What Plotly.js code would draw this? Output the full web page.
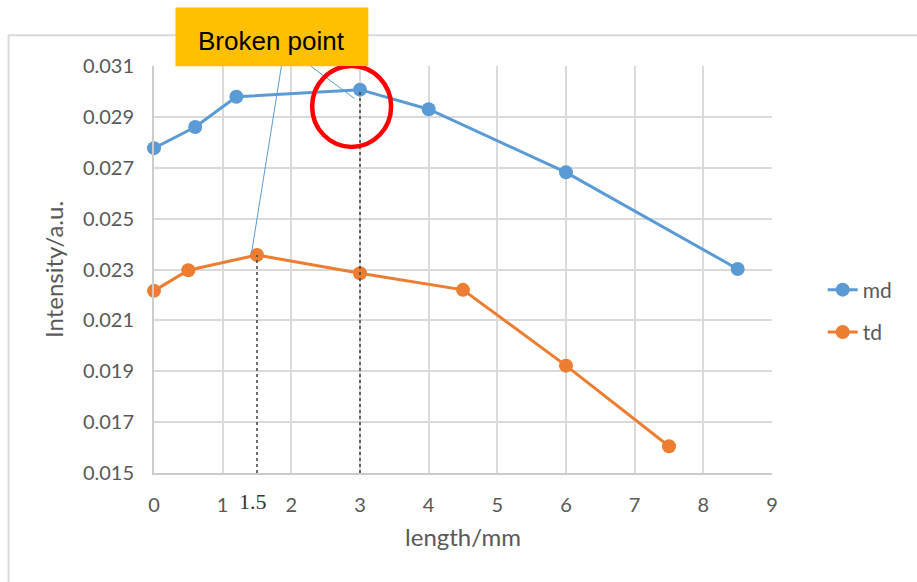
<!DOCTYPE html>
<html>
<head>
<meta charset="utf-8">
<script src="https://cdn.plot.ly/plotly-3.0.1.min.js"></script>
<style>html,body{margin:0;padding:0;background:#fff;}#chart{width:917px;height:582px;}</style>
</head>
<body>
<div id="chart"></div>
<script>
// Data
var mdLength = [0, 0.6, 1.2, 3, 4, 6, 8.5];
var mdIntensity = [0.02777, 0.0286, 0.02979, 0.03007, 0.0293, 0.02682, 0.02302];
var tdLength = [0, 0.5, 1.5, 3, 4.5, 6, 7.5];
var tdIntensity = [0.02216, 0.02297, 0.02357, 0.02285, 0.0222, 0.01922, 0.01605];
var xTicks = [0, 1, 2, 3, 4, 5, 6, 7, 8, 9];
var yTicks = [0.015, 0.017, 0.019, 0.021, 0.023, 0.025, 0.027, 0.029, 0.031];
var seriesNames = ['md', 'td'];
var calloutText = 'Broken point';
var extraTickLabel = '1.5';

var mdColor = '#5B9BD5', tdColor = '#ED7D31';
var textGray = '#595959';
var fontFam = 'Lato, "Open Sans", sans-serif';

var traces = [
  {x: mdLength, y: mdIntensity, name: seriesNames[0], type: 'scatter', mode: 'lines+markers',
   line: {color: mdColor, width: 3}, marker: {color: mdColor, size: 14}, cliponaxis: false, legendgroup: 'a'},
  {x: tdLength, y: tdIntensity, name: seriesNames[1], type: 'scatter', mode: 'lines+markers',
   line: {color: tdColor, width: 3}, marker: {color: tdColor, size: 14}, cliponaxis: false, legendgroup: 'b'}
];

// break points taken from the data
var tdBreakIdx = 2, mdBreakIdx = 3;

var layout = {
  width: 917, height: 582,
  margin: {l: 153.5, r: 145, t: 66, b: 108.5},
  paper_bgcolor: '#fff', plot_bgcolor: '#fff',
  font: {family: fontFam, color: textGray},
  showlegend: true,
  legend: {x: 1.082, xanchor: 'left', y: 0.398, yanchor: 'middle', font: {size: 21, color: textGray, family: fontFam},
           tracegroupgap: 12, bgcolor: 'rgba(0,0,0,0)'},
  xaxis: {range: [0, 9], tickvals: xTicks, ticktext: xTicks.map(String), showgrid: true, gridcolor: '#dadada', gridwidth: 2,
          zeroline: false, showline: true, linecolor: '#cccccc', linewidth: 2, ticks: '',
          tickfont: {size: 20, color: textGray, family: fontFam}, ticklabelstandoff: 13,
          title: {text: 'length/mm', font: {size: 24, color: textGray, family: fontFam}, standoff: 14}},
  yaxis: {range: [0.015, 0.031], tickvals: yTicks, ticktext: yTicks.map(function(v){return v.toFixed(3);}),
          showgrid: true, gridcolor: '#dadada', gridwidth: 2, zeroline: false, showline: true, linecolor: '#cccccc', linewidth: 2,
          ticks: '', tickfont: {size: 20, color: textGray, family: fontFam}, ticklabelstandoff: 14,
          title: {text: 'Intensity/a.u.', font: {size: 24, color: textGray, family: fontFam}, standoff: 12}},
  shapes: [
    // outer chart border
    {type: 'rect', xref: 'paper', yref: 'paper', x0: -0.2353, x1: 1.3, y0: -0.4, y1: 1.0753,
     line: {color: '#d9d9d9', width: 2}, fillcolor: 'rgba(0,0,0,0)', layer: 'below'},
    // dashed guides
    {type: 'line', xref: 'x', yref: 'y', x0: tdLength[tdBreakIdx], x1: tdLength[tdBreakIdx], y0: 0.015, y1: tdIntensity[tdBreakIdx],
     line: {color: '#404040', width: 1.5, dash: 'dot'}},
    {type: 'line', xref: 'x', yref: 'y', x0: mdLength[mdBreakIdx], x1: mdLength[mdBreakIdx], y0: 0.015, y1: mdIntensity[mdBreakIdx],
     line: {color: '#404040', width: 1.5, dash: 'dot'}},
    // callout connectors
    {type: 'line', xref: 'x', yref: 'paper', x0: 1.856, x1: 1.42, y0: 1.0, y1: 0.54, line: {color: mdColor, width: 1}},
    {type: 'line', xref: 'x', yref: 'paper', x0: 2.28, x1: 2.92, y0: 1.0, y1: 0.92, line: {color: mdColor, width: 1}},
    // callout box
    {type: 'rect', xref: 'paper', yref: 'paper', x0: 0.0348, x1: 0.3468, y0: 0.9993, y1: 1.144,
     line: {width: 0}, fillcolor: '#FFC000'},
    // red circle
    {type: 'circle', xref: 'x', yref: 'y', x0: 2.303, x1: 3.453, y0: 0.02782, y1: 0.0310,
     line: {color: '#FF0000', width: 4.5}, fillcolor: 'rgba(0,0,0,0)'}
  ],
  annotations: [
    {text: calloutText, xref: 'paper', yref: 'paper', x: 0.1908, y: 1.0606, xanchor: 'center', yanchor: 'middle',
     showarrow: false, font: {size: 26, color: '#000', family: 'Liberation Sans, Arial, sans-serif'}},
    {text: extraTickLabel, xref: 'x', yref: 'paper', x: tdLength[tdBreakIdx], xshift: -4, y: -0.07, xanchor: 'center', yanchor: 'middle',
     showarrow: false, font: {size: 22, color: '#333', family: 'Liberation Serif, Times New Roman, serif'}}
  ]
};

Plotly.newPlot('chart', traces, layout, {displayModeBar: false, staticPlot: true});
</script>
</body>
</html>
